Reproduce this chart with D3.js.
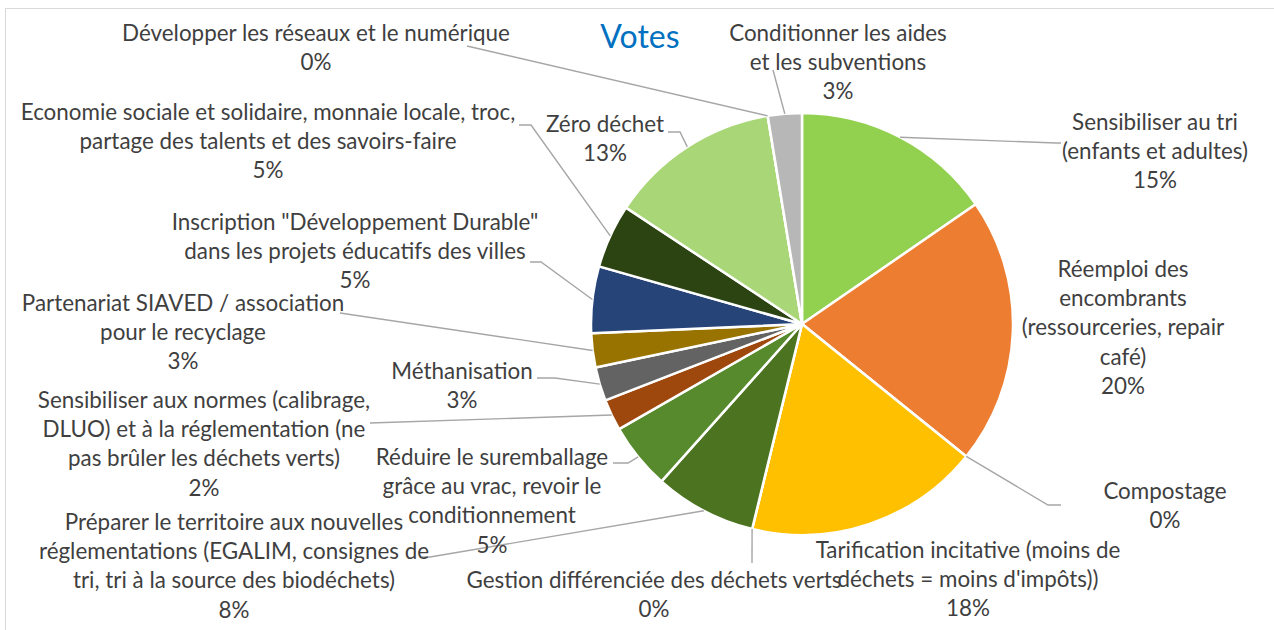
<!DOCTYPE html>
<html>
<head>
<meta charset="utf-8">
<script src="https://cdn.jsdelivr.net/npm/d3@7"></script>
<style>
  body { margin: 0; background: #fff; }
  svg text { font-family: Lato, "Open Sans", sans-serif; }
</style>
</head>
<body>
<svg id="chart" width="1274" height="630"></svg>
<script>
// vote categories, clockwise from 12 o'clock (line breaks as shown in the labels)
var categories = [
  "Sensibiliser au tri\n(enfants et adultes)",
  "Réemploi des\nencombrants\n(ressourceries, repair\ncafé)",
  "Compostage",
  "Tarification incitative (moins de\ndéchets = moins d'impôts))",
  "Gestion différenciée des déchets verts",
  "Préparer le territoire aux nouvelles\nréglementations (EGALIM, consignes de\ntri, tri à la source des biodéchets)",
  "Réduire le suremballage\ngrâce au vrac, revoir le\nconditionnement",
  "Sensibiliser aux normes (calibrage,\nDLUO) et à la réglementation (ne\npas brûler les déchets verts)",
  "Méthanisation",
  "Partenariat SIAVED / association\npour le recyclage",
  "Inscription \"Développement Durable\"\ndans les projets éducatifs des villes",
  "Economie sociale et solidaire, monnaie locale, troc,\npartage des talents et des savoirs-faire",
  "Zéro déchet",
  "Développer les réseaux et le numérique",
  "Conditionner les aides\net les subventions"
];
var votes = [15.4, 20.4, 0, 18.0, 0, 7.8, 5.1, 2.4, 2.6, 2.6, 5.1, 4.9, 13.1, 0, 2.6];
var sliceColors = ["#92D050", "#ED7D31", "#A5A5A5", "#FFC000", "#5B9BD5", "#4B7320", "#568A2C",
  "#9E480E", "#636363", "#997300", "#264478", "#2B4412", "#A9D677", "#43682B", "#B7B7B7"];

// label placement: centre x, centre of first line, leader points near the label
var labelLayout = [
  {x: 1155, y: 122, leader: [[1056, 143], [1061, 143]]},
  {x: 1123, y: 269, leader: null},
  {x: 1165, y: 491, leader: [[1048, 505], [1061, 505]]},
  {x: 968, y: 550, leader: null},
  {x: 654, y: 580, leader: [[752, 563]]},
  {x: 234, y: 522, leader: [[430, 557], [422, 557]]},
  {x: 492, y: 457, leader: [[628, 463], [613, 463]]},
  {x: 204, y: 400, leader: [[370, 423]]},
  {x: 462, y: 371, leader: [[555, 378], [537, 378]]},
  {x: 183, y: 303, leader: [[340, 313]]},
  {x: 355, y: 222, leader: [[541, 262], [530, 262]]},
  {x: 268, y: 112, leader: [[531, 125], [519, 125]]},
  {x: 605, y: 124, leader: [[680, 132], [668, 132]]},
  {x: 316, y: 33, leader: [[467, 46]]},
  {x: 838, y: 33, leader: [[773, 70]]}
];

var cx = 802, cy = 324, radius = 211, lineHeight = 29.3;

var svg = d3.select("#chart");

//chart area border
svg.append("rect")
  .attr("x", 5.5).attr("y", 8.5)
  .attr("width", 1320).attr("height", 700)
  .attr("fill", "#fff")
  .attr("stroke", "#D9D9D9");

svg.append("text")
  .attr("x", 640).attr("y", 37)
  .attr("dy", "0.35em")
  .attr("text-anchor", "middle")
  .style("font-size", "32px")
  .attr("fill", "#0070C0")
  .text("Votes");

var total = d3.sum(votes);
var pct = d3.format(".0%");

var pie = d3.pie().sort(null).value(function(d){ return d; });
var arcs = pie(votes);
var arc = d3.arc().innerRadius(0).outerRadius(radius);
var rim = d3.arc().innerRadius(radius).outerRadius(radius);

var g = svg.append("g").attr("transform", "translate(" + cx + "," + cy + ")");

g.selectAll("path.slice")
  .data(arcs)
  .enter().append("path")
  .attr("class", "slice")
  .attr("d", arc)
  .attr("fill", function(d, i){ return sliceColors[i]; })
  .attr("stroke", "#fff")
  .attr("stroke-width", 2.5)
  .attr("stroke-linejoin", "round");

// leader lines: from the slice rim to the label
var line = d3.line();
svg.selectAll("path.leader")
  .data(arcs.filter(function(d, i){ return labelLayout[i].leader; }))
  .enter().append("path")
  .attr("class", "leader")
  .attr("d", function(d){
    var c = rim.centroid(d);
    var pts = [[c[0] + cx, c[1] + cy]].concat(labelLayout[d.index].leader);
    return line(pts);
  })
  .attr("fill", "none")
  .attr("stroke", "#A6A6A6")
  .attr("stroke-width", 1.4);

var labels = svg.selectAll("text.label")
  .data(arcs)
  .enter().append("text")
  .attr("class", "label")
  .attr("text-anchor", "middle")
  .attr("fill", "#3F3F3F")
  .style("font-size", "22.4px");

labels.each(function(d, i){
  var lines = categories[i].split("\n").concat([pct(d.value / total)]);
  var pos = labelLayout[i];
  d3.select(this).selectAll("tspan")
    .data(lines)
    .enter().append("tspan")
    .attr("x", pos.x)
    .attr("y", function(t, k){ return pos.y + k * lineHeight; })
    .attr("dy", "0.35em")
    .text(function(t){ return t; });
});
</script>
</body>
</html>
